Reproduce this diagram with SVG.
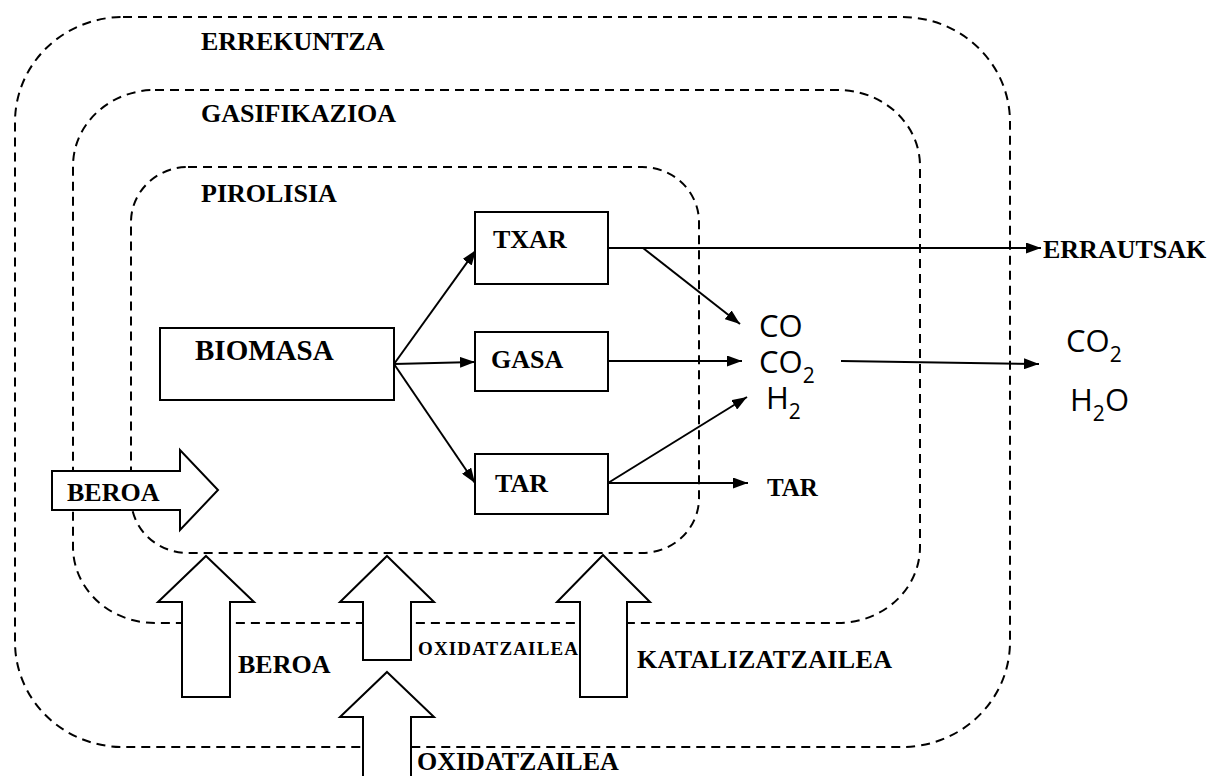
<svg xmlns="http://www.w3.org/2000/svg" width="1209" height="776" viewBox="0 0 1209 776">
<defs>
<style>
.zone{fill:none;stroke:#000;stroke-width:2;stroke-dasharray:9 6}
.box{fill:#fff;stroke:#000;stroke-width:2}
.blk{fill:#fff;stroke:#000;stroke-width:2;stroke-linejoin:miter}
.lbl{font-family:"Liberation Serif","Times New Roman",serif;font-weight:bold;font-size:26px;fill:#000}
.chem{font-family:"Open Sans","Noto Sans",sans-serif;font-size:31px;fill:#000}
.sub{font-size:21px}
.con{fill:none;stroke:#000;stroke-width:2}
</style>
<marker id="ah" viewBox="0 0 15 11" refX="15" refY="5.5" markerWidth="15" markerHeight="11" markerUnits="userSpaceOnUse" orient="auto">
<path d="M0,0 L15,5.5 L0,11 z" fill="#000"/>
</marker>
</defs>
<rect width="1209" height="776" fill="#fff"/>

<g id="zone-errekuntza">
<rect class="zone" x="15" y="17" width="995" height="730" rx="108" ry="105"/>
<text class="lbl" x="201" y="50">ERREKUNTZA</text>
</g>
<g id="zone-gasifikazioa">
<rect class="zone" x="73" y="90" width="847" height="533" rx="82" ry="76"/>
<text class="lbl" x="201" y="122">GASIFIKAZIOA</text>
</g>
<g id="zone-pirolisia">
<rect class="zone" x="131" y="167" width="568" height="386" rx="57" ry="55"/>
<text class="lbl" x="201" y="202">PIROLISIA</text>
</g>

<g id="connectors">
<path class="con" d="M394,364 L476,250" marker-end="url(#ah)"/>
<path class="con" d="M394,364 L475,362" marker-end="url(#ah)"/>
<path class="con" d="M394,364 L475,483" marker-end="url(#ah)"/>
<path class="con" d="M608,248 L1041,248" marker-end="url(#ah)"/>
<path class="con" d="M643,248 L740,324" marker-end="url(#ah)"/>
<path class="con" d="M608,361 L742,361" marker-end="url(#ah)"/>
<path class="con" d="M608,483 L747,397" marker-end="url(#ah)"/>
<path class="con" d="M608,483 L748,483" marker-end="url(#ah)"/>
<path class="con" d="M841,361 L1039,364" marker-end="url(#ah)"/>
</g>

<g id="node-biomasa">
<rect class="box" x="160" y="328" width="234" height="72"/>
<text class="lbl" x="195" y="360" style="font-size:29px">BIOMASA</text>
</g>
<g id="node-txar">
<rect class="box" x="475" y="212" width="133" height="72"/>
<text class="lbl" x="493" y="248">TXAR</text>
</g>
<g id="node-gasa">
<rect class="box" x="475" y="332" width="133" height="59"/>
<text class="lbl" x="491" y="368">GASA</text>
</g>
<g id="node-tar">
<rect class="box" x="475" y="454" width="133" height="60"/>
<text class="lbl" x="495" y="492">TAR</text>
</g>

<g id="node-errautsak">
<text class="lbl" x="1043" y="258">ERRAUTSAK</text>
</g>
<g id="node-gases">
<text class="chem"><tspan x="759" y="337">CO</tspan><tspan x="759" y="373">CO</tspan><tspan class="sub" dy="10">2</tspan><tspan x="766" y="409">H</tspan><tspan class="sub" dy="10">2</tspan></text>
</g>
<g id="node-tar-out">
<text class="lbl" x="767" y="496" style="font-size:25px">TAR</text>
</g>
<g id="node-products">
<text class="chem"><tspan x="1066" y="352">CO</tspan><tspan class="sub" dy="10">2</tspan><tspan x="1070" y="411">H</tspan><tspan class="sub" dy="10">2</tspan><tspan dy="-10">O</tspan></text>
</g>

<g id="node-beroa-left">
<polygon class="blk" points="52,471 180,471 180,450 218,490 180,530 180,510 52,510"/>
<text class="lbl" x="67" y="501">BEROA</text>
</g>
<g id="node-beroa-bottom">
<polygon class="blk" points="206,556 254,602 230,602 230,697 182,697 182,602 158,602"/>
<text class="lbl" x="238" y="673">BEROA</text>
</g>
<g id="node-oxidatzailea-inner">
<polygon class="blk" points="387,556 434,602 411,602 411,660 363,660 363,602 340,602"/>
<text class="lbl" x="418" y="655" style="font-size:19px" textLength="160" lengthAdjust="spacing">OXIDATZAILEA</text>
</g>
<g id="node-oxidatzailea-outer">
<polygon class="blk" points="387,672 434,717 411,717 411,790 363,790 363,717 340,717"/>
<text class="lbl" x="417" y="770">OXIDATZAILEA</text>
</g>
<g id="node-katalizatzailea">
<polygon class="blk" points="603,555 650,602 627,602 627,697 580,697 580,602 557,602"/>
<text class="lbl" x="637" y="668" textLength="255" lengthAdjust="spacing">KATALIZATZAILEA</text>
</g>
</svg>
